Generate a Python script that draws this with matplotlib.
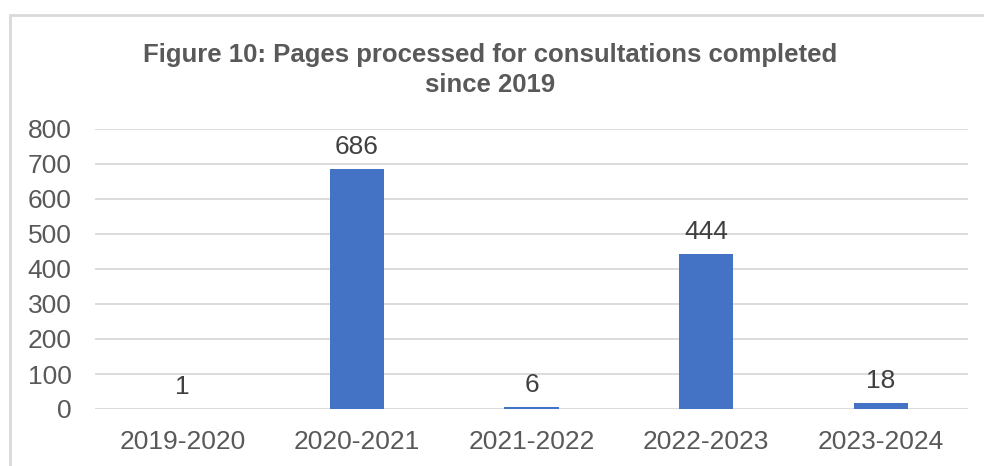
import matplotlib.pyplot as plt
from matplotlib.patches import Rectangle

years = ['2019-2020', '2020-2021', '2021-2022', '2022-2023', '2023-2024']
pages = [1, 686, 6, 444, 18]
yticks = [0, 100, 200, 300, 400, 500, 600, 700, 800]

plt.rcParams['font.family'] = ['Liberation Sans', 'DejaVu Sans']

fig = plt.figure(figsize=(9.84, 4.66), dpi=100)
ax = fig.add_axes([95 / 984, 1 - 409 / 466, 873 / 984, 280 / 466])

# light frame around the chart area, running off the right and bottom edges
fig.patches.append(Rectangle((10 / 984, -0.1), 1.1, 1 - 15 / 466 + 0.1,
                             transform=fig.transFigure, fill=False,
                             edgecolor='#d9d9d9', linewidth=2))

x = range(len(years))
bars = ax.bar(x, pages, width=0.31, color='#4472C4', zorder=3)
for b, v in zip(bars, pages):
    ax.text(b.get_x() + b.get_width() / 2, v + 43, str(v),
            ha='center', va='baseline', fontsize=19, color='#404040')

ax.set_xlim(-0.5, len(years) - 0.5)
ax.set_ylim(0, 800)
ax.set_yticks(yticks)
ax.set_xticks(list(x))
ax.set_xticklabels(years)
ax.tick_params(axis='both', length=0, labelsize=19, labelcolor='#595959')
ax.tick_params(axis='x', pad=15)
ax.tick_params(axis='y', pad=17)
ax.grid(axis='y', color='#d9d9d9', linewidth=1.3, zorder=0)
for s in ax.spines.values():
    s.set_visible(False)

fig.text(490 / 984, 1 - 70 / 466,
         'Figure 10: Pages processed for consultations completed\nsince 2019',
         ha='center', va='center', fontsize=18.5, fontweight='bold',
         color='#595959', linespacing=1.32)

fig.savefig('out.png', dpi=100)
